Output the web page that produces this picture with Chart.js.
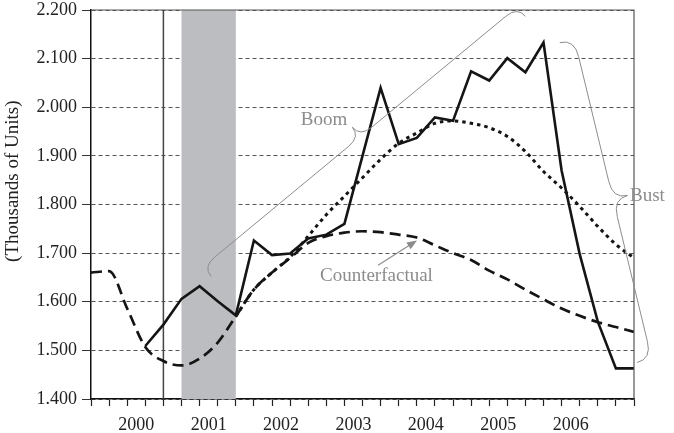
<!DOCTYPE html>
<html>
<head>
<meta charset="utf-8">
<script src="https://cdn.jsdelivr.net/npm/chart.js@4.4.0/dist/chart.umd.min.js"></script>
<style>
  html, body { margin: 0; padding: 0; background: #fff; }
</style>
</head>
<body>
<canvas id="chart" width="674" height="433"></canvas>
<script>
// quarterly observations, 1999Q4 .. 2007Q2 (thousands of units)
const quarters = ['1999Q4',
  '2000Q1', '2000Q2', '2000Q3', '2000Q4',
  '2001Q1', '2001Q2', '2001Q3', '2001Q4',
  '2002Q1', '2002Q2', '2002Q3', '2002Q4',
  '2003Q1', '2003Q2', '2003Q3', '2003Q4',
  '2004Q1', '2004Q2', '2004Q3', '2004Q4',
  '2005Q1', '2005Q2', '2005Q3', '2005Q4',
  '2006Q1', '2006Q2', '2006Q3', '2006Q4',
  '2007Q1', '2007Q2'];

const actual = [null, null, null, 1.509, 1.553, 1.606, 1.632, 1.601, 1.572,
  1.726, 1.696, 1.699, 1.730, 1.738, 1.760, 1.900, 2.040, 1.924, 1.937,
  1.979, 1.972, 2.074, 2.055, 2.101, 2.072, 2.133, 1.870, 1.698, 1.559,
  1.463, 1.463];

const counterfactual = [1.660, 1.663, 1.586, 1.507, 1.478, 1.469, 1.483,
  1.516, 1.570, 1.625, 1.660, 1.690, 1.721, 1.735, 1.742, 1.745, 1.743,
  1.738, 1.732, 1.716, 1.700, 1.686, 1.664, 1.646, 1.625, 1.605, 1.586,
  1.571, 1.558, 1.548, 1.538];

const trend = [null, null, null, null, null, null, null, null, 1.570,
  1.625, 1.660, 1.692, 1.735, 1.779, 1.817, 1.855, 1.893, 1.926, 1.947,
  1.967, 1.972, 1.967, 1.958, 1.940, 1.909, 1.868, 1.834, 1.796, 1.755,
  1.718, 1.690];

// year labels sit in the middle of each year's four quarters
const yearLabels = ['2000', '2001', '2002', '2003', '2004', '2005', '2006'];
const yearTickPos = [2.5, 6.5, 10.5, 14.5, 18.5, 22.5, 26.5];

const yMin = 1.4, yMax = 2.2, yStep = 0.1;

// recession shading (2001Q1..2001Q4) and the vertical marker line
const recessionStart = 5, recessionEnd = 8, markerQuarter = 4;

const FONT = "'Liberation Serif', 'Times New Roman', serif";
const INK = '#151515';
const NOTE = '#8c8c8c';

function toPoints(arr) {
  return arr.map((v, i) => ({ x: i, y: v }));
}

// curly brace between two pixel points, cusp pushed "depth" px to one side
function drawBrace(ctx, x1, y1, x2, y2, depth, side) {
  const dx = x2 - x1, dy = y2 - y1, len = Math.hypot(dx, dy);
  const ux = dx / len, uy = dy / len;
  const nx = -uy * side, ny = ux * side;
  const h = depth / 2, r = depth * 0.6, m = len / 2;
  const P = (t, o) => [x1 + ux * t + nx * o, y1 + uy * t + ny * o];
  let c, e;
  ctx.beginPath();
  e = P(0, 0); ctx.moveTo(e[0], e[1]);
  c = P(0, h); e = P(r, h); ctx.quadraticCurveTo(c[0], c[1], e[0], e[1]);
  e = P(m - r, h); ctx.lineTo(e[0], e[1]);
  c = P(m, h); e = P(m, depth); ctx.quadraticCurveTo(c[0], c[1], e[0], e[1]);
  c = P(m, h); e = P(m + r, h); ctx.quadraticCurveTo(c[0], c[1], e[0], e[1]);
  e = P(len - r, h); ctx.lineTo(e[0], e[1]);
  c = P(len, h); e = P(len, 0); ctx.quadraticCurveTo(c[0], c[1], e[0], e[1]);
  ctx.stroke();
}

const decor = {
  id: 'decor',
  beforeDatasetsDraw(chart) {
    const { ctx, chartArea: a, scales: { x } } = chart;
    ctx.save();
    const x0 = x.getPixelForValue(recessionStart);
    const x1 = x.getPixelForValue(recessionEnd);
    ctx.fillStyle = '#bcbdc0';
    ctx.fillRect(x0, a.top, x1 - x0, a.bottom - a.top);
    const xm = x.getPixelForValue(markerQuarter);
    ctx.strokeStyle = '#444';
    ctx.lineWidth = 1.5;
    ctx.beginPath();
    ctx.moveTo(xm, a.top);
    ctx.lineTo(xm, a.bottom);
    ctx.stroke();
    ctx.restore();
  },
  afterDatasetsDraw(chart) {
    const { ctx, chartArea: a, scales: { x, y } } = chart;
    const px = (qx, v) => [x.getPixelForValue(qx), y.getPixelForValue(v)];
    ctx.save();

    // frame top and right
    ctx.strokeStyle = '#555';
    ctx.lineWidth = 1.2;
    ctx.beginPath();
    ctx.moveTo(a.left, a.top);
    ctx.lineTo(a.right, a.top);
    ctx.lineTo(a.right, a.bottom);
    ctx.stroke();

    // braces
    ctx.strokeStyle = NOTE;
    ctx.lineWidth = 1;
    let p = px(6.63, 1.652), q = px(24.0, 2.187);
    drawBrace(ctx, p[0], p[1], q[0], q[1], 25, -1);
    p = px(25.9, 2.133); q = px(30.17, 1.475);
    drawBrace(ctx, p[0], p[1], q[0], q[1], 30, -1);

    // arrow towards the counterfactual path
    const t = px(15.86, 1.675), h = px(18.01, 1.726);
    const ang = Math.atan2(h[1] - t[1], h[0] - t[0]);
    ctx.strokeStyle = NOTE;
    ctx.lineWidth = 1.2;
    ctx.beginPath();
    ctx.moveTo(t[0], t[1]);
    ctx.lineTo(h[0] - 8 * Math.cos(ang), h[1] - 8 * Math.sin(ang));
    ctx.stroke();
    ctx.fillStyle = NOTE;
    ctx.beginPath();
    ctx.moveTo(h[0], h[1]);
    ctx.lineTo(h[0] - 10 * Math.cos(ang) + 4 * Math.sin(ang), h[1] - 10 * Math.sin(ang) - 4 * Math.cos(ang));
    ctx.lineTo(h[0] - 10 * Math.cos(ang) - 4 * Math.sin(ang), h[1] - 10 * Math.sin(ang) + 4 * Math.cos(ang));
    ctx.closePath();
    ctx.fill();

    // notes
    ctx.font = '19px ' + FONT;
    ctx.fillStyle = NOTE;
    ctx.textBaseline = 'middle';
    ctx.textAlign = 'center';
    p = px(12.87, 1.973); ctx.fillText('Boom', p[0], p[1]);
    p = px(15.77, 1.652); ctx.fillText('Counterfactual', p[0], p[1]);
    ctx.textAlign = 'left';
    p = px(29.78, 1.818); ctx.fillText('Bust', p[0], p[1]);

    // y axis title
    ctx.fillStyle = '#222';
    ctx.font = '19px ' + FONT;
    ctx.translate(13, a.top + (a.bottom - a.top) * 0.44);
    ctx.rotate(-Math.PI / 2);
    ctx.textAlign = 'center';
    ctx.fillText('(Thousands of Units)', 0, 0);
    ctx.restore();
  }
};

const lineBase = {
  borderColor: INK,
  pointRadius: 0,
  fill: false,
  spanGaps: false
};

new Chart(document.getElementById('chart'), {
  type: 'line',
  data: {
    datasets: [
      Object.assign({}, lineBase, {
        label: 'Counterfactual',
        data: toPoints(counterfactual),
        borderWidth: 2.7,
        borderDash: [11, 6],
        cubicInterpolationMode: 'monotone'
      }),
      Object.assign({}, lineBase, {
        label: 'Trend',
        data: toPoints(trend),
        borderWidth: 3,
        borderDash: [3.5, 4],
        cubicInterpolationMode: 'monotone'
      }),
      Object.assign({}, lineBase, {
        label: 'Actual',
        data: toPoints(actual),
        borderWidth: 2.6,
        tension: 0
      })
    ]
  },
  options: {
    responsive: false,
    animation: false,
    layout: { padding: { left: 0, right: 40, top: 10, bottom: 0 } },
    plugins: {
      legend: { display: false },
      tooltip: { enabled: false }
    },
    scales: {
      x: {
        type: 'linear',
        min: 0,
        max: quarters.length - 1,
        afterBuildTicks: (axis) => {
          const vals = quarters.map((q, i) => i).concat(yearTickPos);
          vals.sort((a, b) => a - b);
          axis.ticks = vals.map(v => ({ value: v }));
        },
        afterFit: (s) => { s.height = 34; },
        ticks: {
          autoSkip: false,
          maxRotation: 0,
          padding: 8,
          color: '#222',
          font: { family: FONT, size: 18 },
          callback: (v) => {
            const k = yearTickPos.indexOf(v);
            return k >= 0 ? yearLabels[k] : '';
          }
        },
        grid: {
          drawOnChartArea: false,
          tickLength: 7,
          tickWidth: 1.2,
          tickColor: (c) => (c.tick && Number.isInteger(c.tick.value)) ? '#222' : 'rgba(0,0,0,0)'
        },
        border: { color: '#111', width: 1.5 }
      },
      y: {
        min: yMin,
        max: yMax,
        afterFit: (s) => { s.width = 91; s.paddingTop = 10; s.paddingBottom = 10; },
        ticks: {
          stepSize: yStep,
          padding: 5,
          color: '#222',
          font: { family: FONT, size: 18, lineHeight: 1 },
          callback: (v) => Number(v).toFixed(3)
        },
        grid: {
          color: '#555',
          lineWidth: 1,
          borderDash: [4, 3],
          tickLength: 9,
          tickColor: '#333',
          tickWidth: 1.2,
          tickBorderDash: [1, 0]
        },
        border: { color: '#111', width: 1.5, dash: [4, 3] }
      }
    }
  },
  plugins: [decor]
});
</script>
</body>
</html>
